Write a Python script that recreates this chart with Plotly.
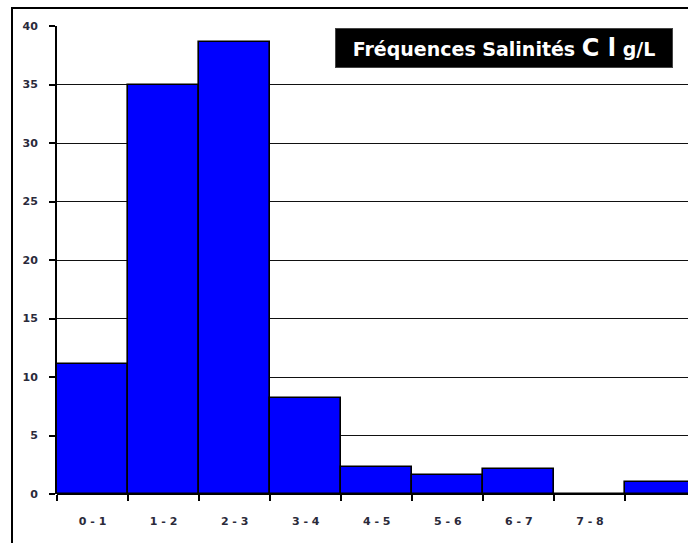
import plotly.graph_objects as go

categories = ["0-1", "1-2", "2-3", "3-4", "4-5", "5-6", "6-7", "7-8", "8-9"]
tick_labels = ["0 - 1", "1 - 2", "2 - 3", "3 - 4", "4 - 5", "5 - 6", "6 - 7", "7 - 8", ""]
frequencies = [11.1, 35.0, 38.6, 8.2, 2.3, 1.6, 2.1, 0.0, 1.0]
y_ticks = [0, 5, 10, 15, 20, 25, 30, 35, 40]

fig = go.Figure()
fig.add_trace(go.Bar(
    x=categories, y=frequencies,
    marker=dict(color="#0000FF", line=dict(color="black", width=1.6)),
    hoverinfo="x+y",
))

tick_font = dict(family="DejaVu Sans, Verdana", size=11, color="#2a2a3a", weight="bold")

fig.update_layout(
    width=688, height=543,
    margin=dict(l=57, r=0, t=26, b=49),
    paper_bgcolor="white", plot_bgcolor="white",
    bargap=0, showlegend=False,
    xaxis=dict(
        type="category", range=[-0.5, 8.38],
        tickmode="array", tickvals=categories, ticktext=tick_labels,
        tickson="boundaries", ticks="outside", ticklen=6, tickwidth=2, tickcolor="black",
        showgrid=False, showline=False, zeroline=False,
        tickfont=tick_font, ticklabelstandoff=19,
    ),
    yaxis=dict(
        range=[0, 40], tickvals=y_ticks,
        ticks="outside", ticklen=6, tickwidth=2, tickcolor="black",
        showline=True, linecolor="black", linewidth=2,
        showgrid=True, gridcolor="#111", gridwidth=1.4,
        zeroline=True, zerolinecolor="black", zerolinewidth=2,
        tickfont=tick_font, ticklabelstandoff=9,
    ),
    shapes=[dict(
        type="rect", xref="paper", yref="paper",
        x0=(12 - 57) / 631, x1=1.05, y0=-0.2, y1=(494 - 8) / 468,
        line=dict(color="black", width=2), fillcolor="rgba(0,0,0,0)", layer="above",
    )],
    annotations=[dict(
        xref="paper", yref="paper", x=(673 - 57) / 631, y=(494 - 28) / 468,
        xanchor="right", yanchor="top",
        text="Fréquences Salinités <span style='font-size:24px'>C l</span> g/L",
        font=dict(family="DejaVu Sans, Verdana", size=19, color="white", weight="bold"),
        bgcolor="black", width=334, height=36, align="center", showarrow=False,
        bordercolor="#444", borderwidth=1, borderpad=1,
    )],
)

fig.write_html("out.html", config={"displayModeBar": False},
               post_script="document.body.style.margin='0px';")
